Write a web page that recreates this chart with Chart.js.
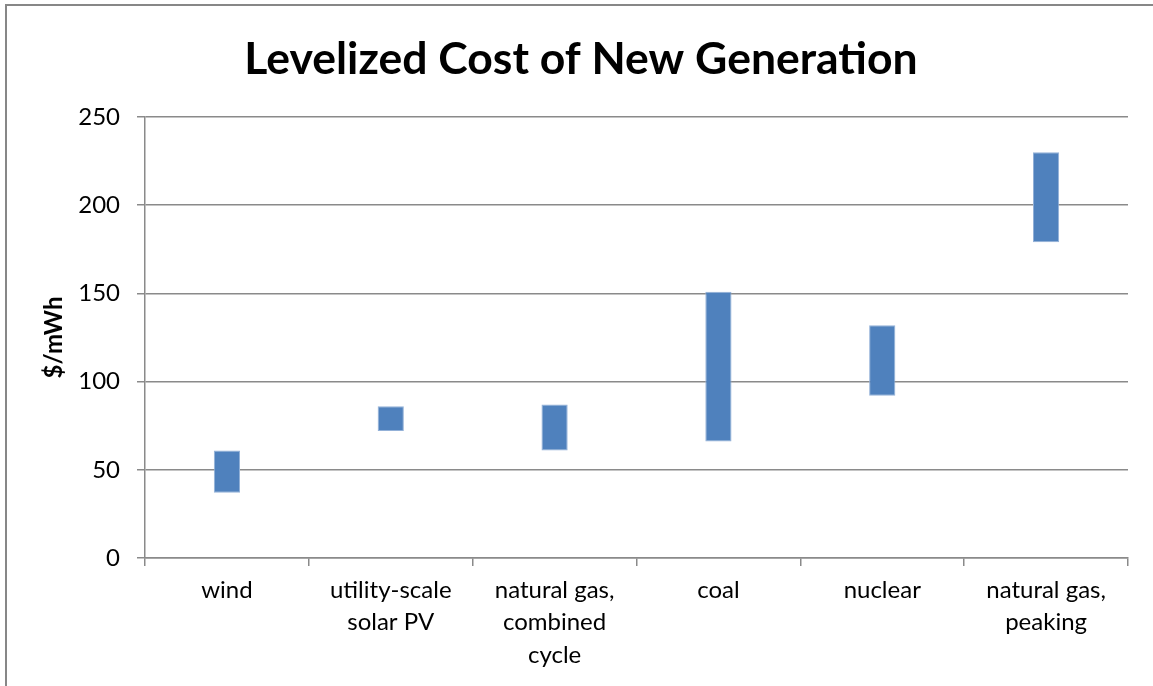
<!DOCTYPE html>
<html lang="en">
<head>
<meta charset="UTF-8" />
<title>Levelized Cost of New Generation</title>
<script src="https://cdn.jsdelivr.net/npm/chart.js"></script>
<style>
  html, body { margin: 0; padding: 0; background: #fff; overflow: hidden; }
  /* outer frame of the chart object, runs off the right and bottom edge */
  .frame {
    position: absolute; left: 5px; top: 4px; width: 1300px; height: 800px;
    border-left: 2px solid #878787; border-top: 2px solid #878787;
  }
  #lcoeChart { position: absolute; left: 0; top: 0; }
</style>
</head>
<body>
<div class="frame"></div>
<canvas id="lcoeChart" width="1153" height="686"></canvas>

<script>
  // categories and cost ranges ($/mWh)
  const categories = [
    ["wind"],
    ["utility-scale", "solar PV"],
    ["natural gas,", "combined", "cycle"],
    ["coal"],
    ["nuclear"],
    ["natural gas,", "peaking"]
  ];
  const lowCost  = [37, 72, 61, 66, 92, 179];
  const highCost = [61, 86, 87, 151, 132, 230];
  const yTicks = [0, 50, 100, 150, 200, 250];

  const ranges = lowCost.map((lo, i) => [lo, highCost[i]]);
  const axisGray = "#8a8a8a";

  new Chart(document.getElementById("lcoeChart"), {
    type: 'bar',
    data: {
      labels: categories,
      datasets: [{
        label: "LCOE",
        data: ranges,
        backgroundColor: "#4f81bd",
        borderColor: "#93b1d8",
        borderWidth: 1,
        borderSkipped: false,
        barPercentage: 0.16,
        categoryPercentage: 1
      }]
    },
    options: {
      responsive: false,
      animation: false,
      // left padding nudges the title centre to the right, y axis width makes up for it
      layout: { padding: { left: 34, right: 25, top: 0, bottom: 0 } },
      plugins: {
        legend: { display: false },
        tooltip: { enabled: false },
        title: {
          display: true,
          text: "Levelized Cost of New Generation",
          color: "#000",
          font: { family: "Lato", size: 44.5, weight: "bold", lineHeight: 1.2 },
          padding: { top: 33, bottom: 30.6 }
        }
      },
      scales: {
        x: {
          grid: {
            display: true,
            drawOnChartArea: false,
            drawTicks: true,
            tickLength: 8,
            color: axisGray,
            lineWidth: 1.5,
            offset: true
          },
          border: { display: true, color: axisGray, width: 1.5 },
          ticks: {
            color: "#000",
            font: { family: "Lato", size: 24, lineHeight: 1.35 },
            padding: 8,
            maxRotation: 0,
            autoSkip: false
          },
          afterFit: (scale) => { scale.height = 128; }
        },
        y: {
          min: 0,
          max: 250,
          afterBuildTicks: (scale) => { scale.ticks = yTicks.map(v => ({ value: v })); },
          grid: {
            color: axisGray,
            lineWidth: 1.5,
            drawTicks: true,
            tickLength: 8
          },
          border: { display: true, color: axisGray, width: 1.5 },
          ticks: {
            color: "#000",
            font: { family: "Lato", size: 24 },
            padding: 17
          },
          title: {
            display: true,
            text: "$/mWh",
            color: "#000",
            font: { family: "Lato", size: 24, weight: "bold", lineHeight: 1.2 },
            padding: { top: 6, bottom: 0 }
          },
          afterFit: (scale) => { scale.width = 111; }
        }
      }
    }
  });
</script>
</body>
</html>
